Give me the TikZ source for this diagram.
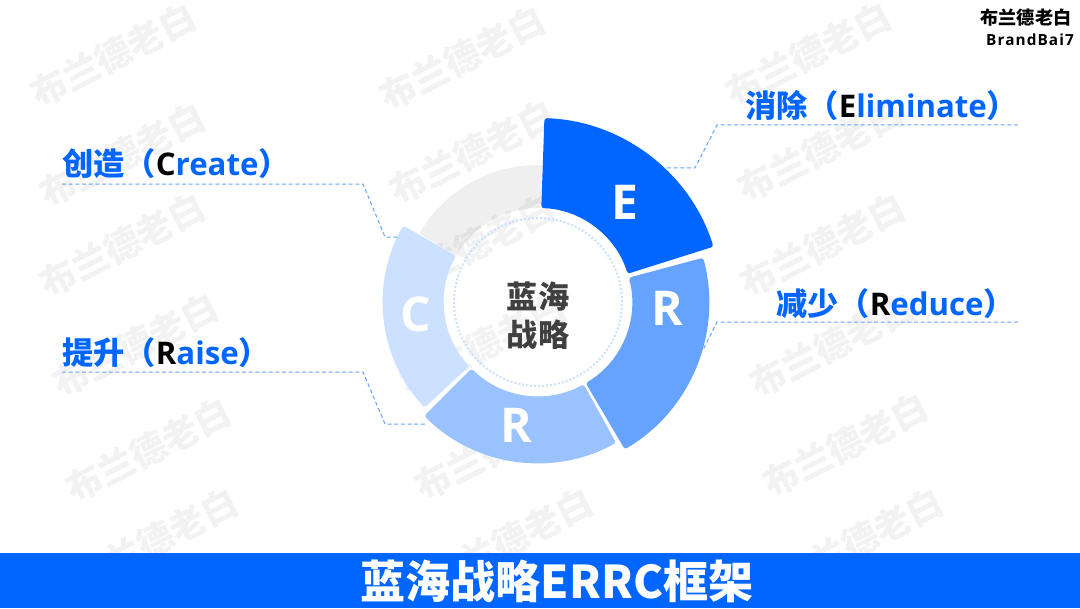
\documentclass[tikz,border=0pt]{standalone}
\usepackage{fontspec}
\setmainfont{Open Sans}
\newfontfamily\cjk{Noto Sans CJK SC}
\newcommand{\ringslice}[4]% start, end, inner, outer
{([shift={(#1:#4)}]hub) arc[start angle=#1,end angle=#2,radius=#4*0.75pt]
 -- ([shift={(#2:#3)}]hub) arc[start angle=#2,end angle=#1,radius=#3*0.75pt] -- cycle
}
\definecolor{bluea}{HTML}{0066FF}
\definecolor{blueb}{HTML}{66A3FF}
\definecolor{bluec}{HTML}{99C2FF}
\definecolor{blued}{HTML}{CCE0FF}
\definecolor{ringgrey}{HTML}{EFEFEF}
\definecolor{hubtext}{HTML}{404040}
\tikzset{
	wmark/.style={rotate=27,text=black,text opacity=.05,font=\cjk\fontsize{27}{27}\selectfont\bfseries},
	slicetext/.style={text=white,font=\fontsize{36}{36}\selectfont\bfseries},
	lbl/.style={anchor=base west,inner sep=0pt,text=bluea,font=\fontsize{23.4}{24}\selectfont\bfseries},
	leader/.style={draw=blueb,dash pattern=on 3pt off 2pt,line width=.75pt},
}
\begin{document}
\begin{tikzpicture}[x=0.75pt,y=0.75pt]
	\useasboundingbox (0,0) rectangle (1080,608);
	\fill[white] (0,0) rectangle (1080,608);
	\coordinate (hub) at (538,306);
	\fill[ringgrey] \ringslice{150}{88.5}{94}{137};
	% watermarks
	\foreach \wx/\wy [count=\i] in {113/553,462/550,808/554,122/453,472/456,820/458,122/363,472/362,822/363,135/263,483/263,832/263,148/158,497/160,845/163,155/68,510/68,860/68}
		\node[wmark] (mark\i) at (\wx,\wy) {布兰德老白};
	% slices
	\fill[bluea,rounded corners=2pt] \ringslice{88}{17.5}{94}{184};
	\fill[blueb,rounded corners=2pt] \ringslice{15}{-59.5}{94}{171};
	\fill[bluec,rounded corners=2pt] \ringslice{-61}{-135}{94}{161};
	\fill[blued,rounded corners=2pt] \ringslice{-137}{-209.5}{94}{155};
	\draw[blued,dash pattern=on 1.5pt off 1.5pt,line width=1.5pt] (hub) circle[radius=84*0.75pt];
	\node[slicetext] (e) at (625,406) {E};
	\node[slicetext] (rb) at (667,300) {R};
	\node[slicetext] (ra) at (516,183) {R};
	\node[slicetext] (c) at (416,294) {C};
	\node[align=center,text=hubtext,font=\cjk\fontsize{23.4}{28.5}\selectfont\bfseries] (center) at (538,292) {蓝海\\战略};
	% labels
	\node[lbl] (eliminate) at (745,490) {{\cjk 消除（}{\color{black}E}liminate{\cjk ）}};
	\node[lbl] (reduce) at (776,293) {{\cjk 减少（}{\color{black}R}educe{\cjk ）}};
	\node[lbl] (create) at (62,432) {{\cjk 创造（}{\color{black}C}reate{\cjk ）}};
	\node[lbl] (raise) at (62,244) {{\cjk 提升（}{\color{black}R}aise{\cjk ）}};
	% leaders
	\coordinate (ea) at (1018,483);
	\coordinate (eb) at (717,483);
	\coordinate (ec) at (695,440);
	\coordinate (ed) at (666,440);
	\coordinate (da) at (1018,286);
	\coordinate (db) at (717,286);
	\coordinate (dc) at (703,258);
	\coordinate (ca) at (62,424);
	\coordinate (cb) at (363,424);
	\coordinate (cc) at (385,371);
	\coordinate (cd) at (398,371);
	\coordinate (ra1) at (62,236);
	\coordinate (ra2) at (363,236);
	\coordinate (ra3) at (385,184);
	\coordinate (ra4) at (425,184);
	\draw[leader] (ea) -- (eb) -- (ec) -- (ed);
	\draw[leader] (da) -- (db) -- (dc);
	\draw[leader] (ca) -- (cb) -- (cc) -- (cd);
	\draw[leader] (ra1) -- (ra2) -- (ra3) -- (ra4);
	% logo
	\node[inner sep=0pt,font=\cjk\fontsize{13.6}{14}\selectfont\bfseries] (logocn) at (1026,590) {布兰德老白};
	\node[inner sep=0pt,font=\fontsize{11.5}{12}\selectfont\bfseries\addfontfeatures{LetterSpace=7}] (logoen) at (1030,568) {BrandBai7};
	% title bar
	\fill[bluea] (0,0) rectangle (1080,55);
	\node[text=white,font=\cjk\fontsize{33.8}{34}\selectfont\bfseries] (title) at (557,27) {蓝海战略ERRC框架};
\end{tikzpicture}
\end{document}
